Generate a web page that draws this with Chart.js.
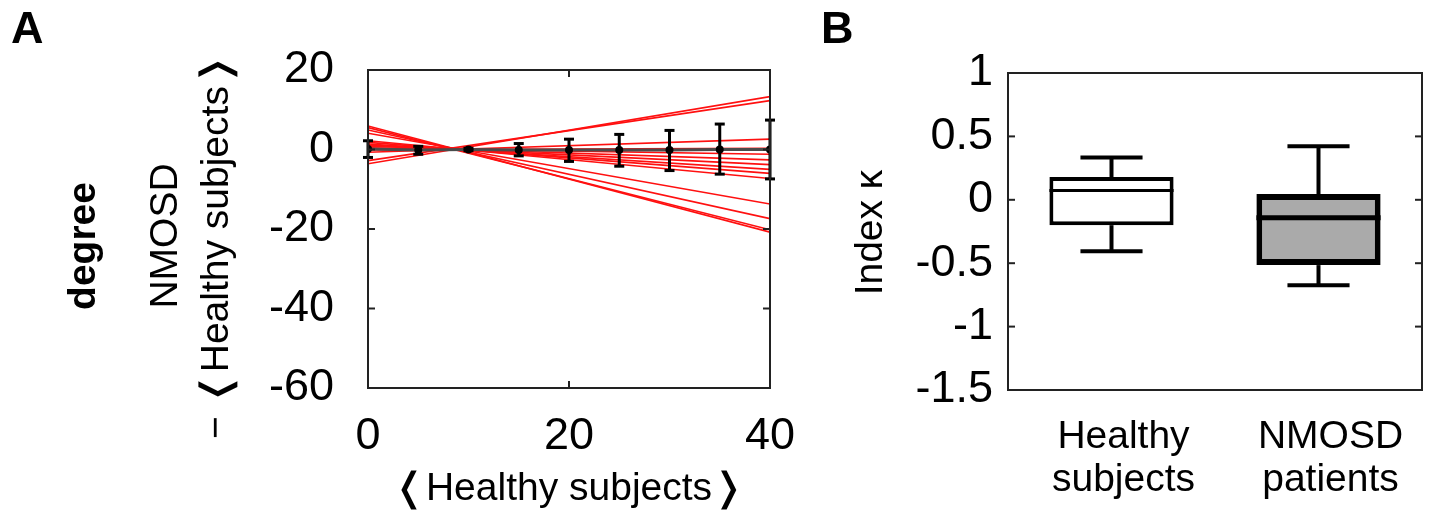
<!DOCTYPE html>
<html>
<head>
<meta charset="utf-8">
<script src="https://cdn.jsdelivr.net/npm/chart.js@4.4.0/dist/chart.umd.min.js"></script>
<style>
  html, body { margin: 0; padding: 0; background: #fff; }
  #wrap { position: relative; width: 1432px; height: 514px; overflow: hidden; }
  #chart-a { position: absolute; left: 0; top: 0; }
  #chart-b { position: absolute; left: 800px; top: 0; }
</style>
</head>
<body>
<div id="wrap">
  <canvas id="chart-a" width="800" height="514"></canvas>
  <canvas id="chart-b" width="632" height="514"></canvas>
</div>
<script>
// panel A: degree difference vs healthy-subject degree
const xSteps = [0, 5, 10, 15, 20, 25, 30, 35, 40];
const meanDiff = [0.1, -0.1, 0, -0.1, -0.1, -0.1, -0.1, 0, 0];
const errUp = [2.1, 0.9, 0.3, 1.6, 2.7, 3.9, 4.9, 6.4, 7.4];
const errDown = [2.1, 1.1, 0.3, 1.5, 2.9, 4.1, 5.2, 6.2, 7.4];
const fitX = [0, 40];
const fitStart = [-3.6, -2.8, -0.7, -0.1, 0.4, 0.8, 1.1, 1.4, 1.8, 2.2, 4.1, 4.9, 5.5, 5.9];
const fitEnd = [13.3, 12.3, 2.6, 0.3, -1.2, -2.6, -3.8, -5.0, -6.0, -7.3, -13.7, -17.4, -20.2, -20.8];
const tickAx = [0, 20, 40];
const tickAy = [20, 0, -20, -40, -60];

// panel B: index kappa box plots
const groups = [["Healthy", "subjects"], ["NMOSD", "patients"]];
const whiskerLow = [-0.406, -0.674];
const boxLow = [-0.2, -0.515];
const medianK = [0.074, -0.141];
const boxHigh = [0.18, 0.045];
const whiskerHigh = [0.334, 0.423];
const tickBy = [1, 0.5, 0, -0.5, -1, -1.5];

const FONT = '"Liberation Sans", Arial, Helvetica, sans-serif';
const tickFont = { family: FONT, size: 45 };

function putText(ctx, str, x, y, font, o = {}) {
  ctx.save();
  ctx.translate(x, y);
  if (o.rotate) ctx.rotate(o.rotate);
  ctx.scale(o.sx || 1, 1);
  ctx.font = font;
  ctx.fillStyle = "#000";
  ctx.textAlign = o.align || "center";
  ctx.textBaseline = o.baseline || "middle";
  ctx.fillText(str, 0, 0);
  ctx.restore();
}

function seg(ctx, x1, y1, x2, y2) {
  ctx.beginPath();
  ctx.moveTo(x1, y1);
  ctx.lineTo(x2, y2);
  ctx.stroke();
}

function framePlugin(withXTicks) {
  return {
    id: "frame",
    afterDatasetsDraw(chart) {
      const { ctx, chartArea: a, scales } = chart;
      ctx.save();
      ctx.strokeStyle = "#222";
      ctx.lineWidth = 2;
      ctx.strokeRect(a.left, a.top, a.width, a.height);
      const len = 7;
      scales.y.ticks.forEach((t) => {
        const py = scales.y.getPixelForValue(t.value);
        if (py <= a.top + 2 || py >= a.bottom - 2) return;
        seg(ctx, a.left, py, a.left + len, py);
        seg(ctx, a.right, py, a.right - len, py);
      });
      if (withXTicks) {
        scales.x.ticks.forEach((t) => {
          const px = scales.x.getPixelForValue(t.value);
          if (px <= a.left + 2 || px >= a.right - 2) return;
          seg(ctx, px, a.top, px, a.top + len);
          seg(ctx, px, a.bottom, px, a.bottom - len);
        });
      }
      ctx.restore();
    },
  };
}

const errorBars = {
  id: "errorBars",
  afterDatasetsDraw(chart) {
    const { ctx, scales } = chart;
    ctx.save();
    ctx.strokeStyle = "#000";
    ctx.lineWidth = 3;
    xSteps.forEach((xv, i) => {
      const px = scales.x.getPixelForValue(xv);
      const top = scales.y.getPixelForValue(meanDiff[i] + errUp[i]);
      const bot = scales.y.getPixelForValue(meanDiff[i] - errDown[i]);
      seg(ctx, px, top, px, bot);
      seg(ctx, px - 5, top, px + 5, top);
      seg(ctx, px - 5, bot, px + 5, bot);
    });
    ctx.restore();
  },
};

const titlesA = {
  id: "titlesA",
  afterDraw(chart) {
    const { ctx, chartArea: a } = chart;
    const mid = (a.top + a.bottom) / 2;
    const up = -Math.PI / 2;
    putText(ctx, "A", 11, 43, `bold 45px ${FONT}`, { align: "left", baseline: "alphabetic" });
    putText(ctx, "degree", a.left - 284, mid + 17, `bold 39px ${FONT}`, { rotate: up });
    putText(ctx, "NMOSD", a.left - 202, mid + 7, `39px ${FONT}`, { rotate: up });
    putText(ctx, "\u2212 \u276CHealthy subjects\u276D", a.left - 151, mid + 17, `39px ${FONT}`, { rotate: up });
    putText(ctx, "\u276CHealthy subjects\u276D", (a.left + a.right) / 2, a.bottom + 112, `39px ${FONT}`, { baseline: "alphabetic" });
  },
};

const boxParts = {
  id: "boxParts",
  afterDatasetsDraw(chart) {
    const { ctx, scales } = chart;
    const meta = chart.getDatasetMeta(0);
    ctx.save();
    ctx.strokeStyle = "#000";
    groups.forEach((g, i) => {
      const px = scales.x.getPixelForValue(i);
      const half = meta.data[i].width / 2;
      const capHalf = half / 2;
      const yWl = scales.y.getPixelForValue(whiskerLow[i]);
      const yWh = scales.y.getPixelForValue(whiskerHigh[i]);
      const yQ1 = scales.y.getPixelForValue(boxLow[i]);
      const yQ3 = scales.y.getPixelForValue(boxHigh[i]);
      const yMed = scales.y.getPixelForValue(medianK[i]);
      ctx.lineWidth = 4;
      seg(ctx, px, yQ3, px, yWh);
      seg(ctx, px, yQ1, px, yWl);
      seg(ctx, px - capHalf, yWh, px + capHalf, yWh);
      seg(ctx, px - capHalf, yWl, px + capHalf, yWl);
      ctx.lineWidth = i === 0 ? 3 : 5;
      seg(ctx, px - half, yMed, px + half, yMed);
    });
    ctx.restore();
  },
};

const titlesB = {
  id: "titlesB",
  afterDraw(chart) {
    const { ctx, chartArea: a, scales } = chart;
    putText(ctx, "B", 21, 43, `bold 45px ${FONT}`, { align: "left", baseline: "alphabetic" });
    putText(ctx, "Index \u03BA", a.left - 137, (a.top + a.bottom) / 2 + 1, `39px ${FONT}`, { rotate: -Math.PI / 2 });
    groups.forEach((g, i) => {
      const px = scales.x.getPixelForValue(i) + 12;
      g.forEach((line, k) => {
        putText(ctx, line, px, a.bottom + 58 + k * 43, `39px ${FONT}`, { baseline: "alphabetic" });
      });
    });
  },
};

const fitSets = fitStart.map((s, i) => ({
  data: [{ x: fitX[0], y: s }, { x: fitX[1], y: fitEnd[i] }],
  borderColor: "#ff1010",
  borderWidth: 1.6,
  pointRadius: 0,
  order: 2,
}));

new Chart(document.getElementById("chart-a"), {
  type: "line",
  data: {
    datasets: [
      ...fitSets,
      {
        data: xSteps.map((x, i) => ({ x, y: meanDiff[i] })),
        borderColor: "#4a4a4a",
        borderWidth: 3,
        pointRadius: 2.5,
        pointBackgroundColor: "#000",
        pointBorderColor: "#000",
        order: 1,
      },
    ],
  },
  options: {
    responsive: false,
    animation: false,
    layout: { padding: { top: 70, right: 30, left: 0, bottom: 0 } },
    plugins: { legend: { display: false }, tooltip: { enabled: false } },
    scales: {
      x: {
        type: "linear",
        min: 0,
        max: 40,
        afterBuildTicks: (s) => { s.ticks = tickAx.map((v) => ({ value: v })); },
        afterFit: (s) => { s.height = 126; s.paddingLeft = 0; s.paddingRight = 0; },
        ticks: { font: tickFont, color: "#000", padding: 22, maxRotation: 0, autoSkip: false },
        grid: { display: false, drawTicks: false },
        border: { display: false },
      },
      y: {
        min: -60,
        max: 20,
        afterBuildTicks: (s) => { s.ticks = tickAy.map((v) => ({ value: v })); },
        afterFit: (s) => { s.width = 368; s.paddingTop = 0; s.paddingBottom = 0; },
        ticks: { font: tickFont, color: "#000", padding: 34, autoSkip: false },
        grid: { display: false, drawTicks: false },
        border: { display: false },
      },
    },
  },
  plugins: [errorBars, framePlugin(true), titlesA],
});

new Chart(document.getElementById("chart-b"), {
  type: "bar",
  data: {
    labels: groups,
    datasets: [
      {
        data: boxLow.map((lo, i) => [lo, boxHigh[i]]),
        backgroundColor: ["#ffffff", "#aaaaaa"],
        borderColor: "#000",
        borderWidth: [4, 6],
        borderSkipped: false,
        barPercentage: 0.6,
        categoryPercentage: 1,
      },
    ],
  },
  options: {
    responsive: false,
    animation: false,
    layout: { padding: { top: 73, right: 10, left: 0, bottom: 0 } },
    plugins: { legend: { display: false }, tooltip: { enabled: false } },
    scales: {
      x: {
        afterFit: (s) => { s.height = 124; s.paddingLeft = 0; s.paddingRight = 0; },
        ticks: { display: false },
        grid: { display: false, drawTicks: false },
        border: { display: false },
      },
      y: {
        min: -1.5,
        max: 1,
        afterBuildTicks: (s) => { s.ticks = tickBy.map((v) => ({ value: v })); },
        afterFit: (s) => { s.width = 208; s.paddingTop = 0; s.paddingBottom = 0; },
        ticks: { font: tickFont, color: "#000", padding: 15, autoSkip: false, callback: (v) => String(v) },
        grid: { display: false, drawTicks: false },
        border: { display: false },
      },
    },
  },
  plugins: [boxParts, framePlugin(false), titlesB],
});
</script>
</body>
</html>
